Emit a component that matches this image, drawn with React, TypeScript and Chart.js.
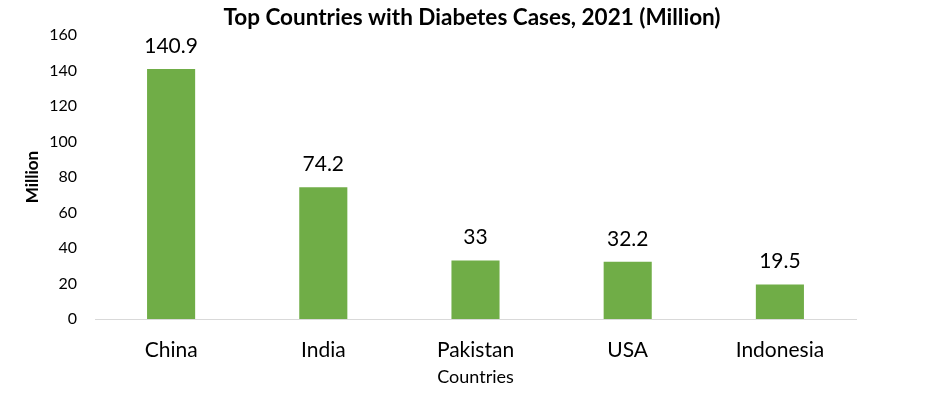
import React, { useEffect, useRef } from "react";
import { Chart, registerables } from "chart.js";

Chart.register(...registerables);

const categories = ["China", "India", "Pakistan", "USA", "Indonesia"];
const values = [140.9, 74.2, 33, 32.2, 19.5];
const valueLabels = ["140.9", "74.2", "33", "32.2", "19.5"];
const titleText = "Top Countries with Diabetes Cases, 2021 (Million)";
const FONT = "Lato, 'Noto Sans', sans-serif";

const labelPlugin = {
  id: "valueLabels",
  afterDatasetsDraw(chart: any) {
    const ctx = chart.ctx;
    const meta = chart.getDatasetMeta(0);
    ctx.save();
    ctx.font = `21px ${FONT}`;
    ctx.fillStyle = "#000";
    ctx.textAlign = "center";
    ctx.textBaseline = "middle";
    meta.data.forEach((bar: any, i: number) => {
      ctx.fillText(valueLabels[i], bar.x, bar.y - 23);
    });
    ctx.restore();
  },
};

const titlePlugin = {
  id: "customTitle",
  afterDraw(chart: any) {
    const ctx = chart.ctx;
    ctx.save();
    ctx.font = `bold 22.5px ${FONT}`;
    ctx.fillStyle = "#000";
    ctx.textAlign = "center";
    ctx.textBaseline = "middle";
    ctx.fillText(titleText, 472, 18);
    ctx.restore();
  },
};

export default function App() {
  const ref = useRef<HTMLCanvasElement>(null);
  useEffect(() => {
    document.body.style.margin = "0";
    const chart = new Chart(ref.current!, {
      type: "bar",
      data: {
        labels: categories,
        datasets: [
          {
            data: values,
            backgroundColor: "#70AD47",
            categoryPercentage: 1,
            barPercentage: 0.316,
          },
        ],
      },
      options: {
        animation: false,
        responsive: false,
        layout: { padding: { left: 22, right: 83, top: 35, bottom: 6 } },
        plugins: {
          legend: { display: false },
          title: { display: false },
          tooltip: { enabled: false },
        },
        scales: {
          x: {
            grid: { display: false, drawTicks: false },
            border: { display: true, color: "#d9d9d9", width: 1 },
            ticks: { color: "#000", font: { family: FONT, size: 21 }, padding: 19 },
            title: {
              display: true,
              text: "Countries",
              color: "#000",
              font: { family: FONT, size: 18 },
              padding: { top: 0, bottom: 0 },
            },
            afterFit(scale: any) {
              scale.height = 394 - 6 - 319;
            },
          },
          y: {
            min: 0,
            max: 160,
            ticks: { stepSize: 20, color: "#000", font: { family: FONT, size: 16 }, padding: 18 },
            grid: { display: false, drawTicks: false },
            border: { display: false },
            title: {
              display: true,
              text: "Million",
              color: "#000",
              font: { family: FONT, size: 17, weight: "bold" },
              padding: { top: 0, bottom: 0 },
            },
            afterFit(scale: any) {
              scale.width = 95 - 22;
            },
          },
        },
      },
      plugins: [labelPlugin, titlePlugin],
    });
    return () => chart.destroy();
  }, []);
  return (
    <div style={{ width: 939, height: 394, background: "#fff" }}>
      <canvas ref={ref} width={939} height={394} style={{ display: "block" }} />
    </div>
  );
}
